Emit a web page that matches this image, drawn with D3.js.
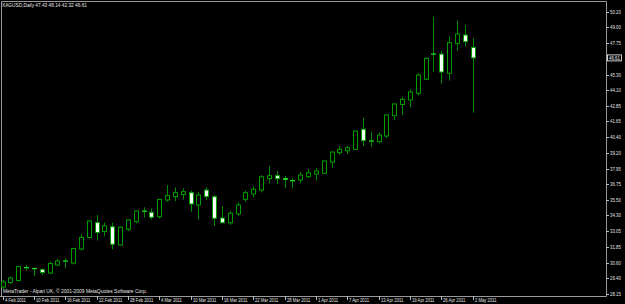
<!DOCTYPE html>
<html><head><meta charset="utf-8">
<script src="https://cdn.jsdelivr.net/npm/d3@7"></script>
<style>html,body{margin:0;padding:0;background:#000;overflow:hidden}</style>
</head><body>
<svg id="c" width="625" height="304"></svg>
<script>
const dates = ["2011-02-04","2011-02-07","2011-02-08","2011-02-09","2011-02-10","2011-02-11","2011-02-14","2011-02-15","2011-02-16","2011-02-17","2011-02-18","2011-02-21","2011-02-22","2011-02-23","2011-02-24","2011-02-25","2011-02-28",
"2011-03-01","2011-03-02","2011-03-03","2011-03-04","2011-03-07","2011-03-08","2011-03-09","2011-03-10","2011-03-11","2011-03-14","2011-03-15","2011-03-16","2011-03-17","2011-03-18","2011-03-21","2011-03-22","2011-03-23","2011-03-24","2011-03-25","2011-03-28","2011-03-29","2011-03-30","2011-03-31",
"2011-04-01","2011-04-04","2011-04-05","2011-04-06","2011-04-07","2011-04-08","2011-04-11","2011-04-12","2011-04-13","2011-04-14","2011-04-15","2011-04-18","2011-04-19","2011-04-20","2011-04-21","2011-04-25","2011-04-26","2011-04-27","2011-04-28","2011-04-29","2011-05-02"];
const open  = [28.70,29.05,29.21,30.20,30.15,30.07,29.79,30.42,30.72,30.57,31.67,32.57,33.74,33.04,33.41,31.98,33.21,33.80,34.61,34.54,34.19,35.50,35.76,35.93,36.07,35.11,36.28,35.76,34.09,33.72,34.41,35.55,35.97,36.28,37.17,37.40,37.17,37.00,37.06,37.32,37.53,37.59,38.47,39.20,39.35,39.46,41.03,40.10,40.06,40.50,42.09,42.97,43.32,43.84,44.94,46.90,46.91,45.41,47.75,48.40,47.43];
const high  = [29.24,29.52,30.34,30.42,30.18,30.14,30.69,30.89,30.93,31.75,32.84,33.94,34.33,33.74,33.72,33.43,34.01,34.68,34.93,34.85,35.58,36.67,36.49,36.41,36.24,36.13,36.49,35.89,35.03,34.64,35.32,36.24,36.56,37.45,38.16,37.77,37.38,37.20,37.69,37.90,37.98,38.59,39.29,39.72,39.72,40.93,41.93,40.84,40.76,42.18,43.04,43.58,44.15,45.41,46.64,49.83,47.17,48.32,49.52,49.18,48.14];
const low   = [28.54,28.93,29.13,29.99,29.56,29.64,29.71,30.34,30.18,30.46,31.55,32.49,32.33,32.65,31.65,31.94,33.08,33.68,34.13,33.98,34.07,35.38,35.40,35.55,34.59,33.99,35.50,33.47,33.70,33.55,34.27,35.34,35.70,36.09,36.81,36.75,36.41,36.41,36.85,37.24,37.01,37.53,38.03,39.02,39.10,39.41,39.72,39.67,39.93,40.32,41.75,42.15,42.75,43.65,44.88,45.53,44.62,44.83,47.17,47.49,42.32];
const close = [29.09,29.40,30.30,30.22,30.13,29.83,30.53,30.73,30.74,31.71,32.57,33.86,32.96,33.47,32.04,33.37,33.94,34.64,34.63,34.15,35.55,35.84,36.07,36.15,35.19,35.89,35.76,34.07,33.72,34.46,35.11,36.07,36.34,37.32,37.40,37.17,37.12,37.02,37.45,37.63,37.77,38.55,39.25,39.46,39.59,40.89,40.14,40.12,40.58,42.15,43.01,43.37,43.94,45.27,46.58,46.92,45.51,47.80,48.48,47.88,46.61];
const priceTicks = [50.20,49.00,47.75,45.30,44.10,42.85,41.65,40.40,39.20,37.95,36.75,35.50,34.30,33.05,31.85,30.60,29.40,28.15];
const dateTickLabels = ["4 Feb 2011","10 Feb 2011","16 Feb 2011","22 Feb 2011","28 Feb 2011","4 Mar 2011","10 Mar 2011","16 Mar 2011","22 Mar 2011","28 Mar 2011","1 Apr 2011","7 Apr 2011","13 Apr 2011","19 Apr 2011","26 Apr 2011","2 May 2011"];
const headerText = "XAGUSD,Daily  47.43 48.14 42.32 46.61";
const footerText = "MetaTrader - Alpari UK, \u00a9 2001-2009 MetaQuotes Software Corp.";
const lastPrice = 46.61;

const svg = d3.select("#c");
svg.append("rect").attr("width",625).attr("height",304).attr("fill","#000");

const parse = d3.timeParse("%Y-%m-%d");
const fmt = d3.timeFormat("%-d %b %Y");
const x = d3.scalePoint().domain(dates).range([2.5, 472.5]);
const y = d3.scaleLinear().domain([28.15, 50.20]).range([294, 12]);

const bars = dates.map((d,i)=>({d, o:open[i], h:high[i], l:low[i], c:close[i]}));
const font = "'Liberation Sans', Arial, sans-serif";
const FS = 5.4;
function squeeze(sel, k){ sel.each(function(){ const w=this.getComputedTextLength(); d3.select(this).attr("textLength",w*k).attr("lengthAdjust","spacingAndGlyphs"); }); }

// frame
svg.append("path").attr("d",`M1.5,296V1.5H606.5V296.5H0`).attr("fill","none").attr("stroke","#9a9a9a").attr("stroke-width",1);

const g = svg.append("g");
// wicks
g.selectAll("line.w").data(bars).join("line")
  .attr("x1",b=>Math.round(x(b.d))+0.5).attr("x2",b=>Math.round(x(b.d))+0.5)
  .attr("y1",b=>y(b.h)).attr("y2",b=>y(b.l))
  .attr("stroke","#008c00").attr("stroke-width",1);
// bodies
g.selectAll("rect.b").data(bars).join("rect")
  .attr("x",b=>Math.round(x(b.d))-2)
  .attr("y",b=>y(Math.max(b.o,b.c)))
  .attr("width",4)
  .attr("height",b=>Math.max(0.01,Math.abs(y(b.o)-y(b.c))))
  .attr("fill",b=>b.c<b.o?"#f4fff4":"#000")
  .attr("stroke",b=>Math.abs(y(b.o)-y(b.c))<1.2?"#1ee01e":"#009c00")
  .attr("stroke-width",1)
  .attr("transform","translate(0.5,0)");

// right axis
const ra = svg.append("g").attr("font-family",font).attr("font-size",FS).attr("fill","#e6e6e6");
priceTicks.forEach(v=>{
  ra.append("line").attr("x1",606).attr("x2",609).attr("y1",Math.round(y(v))+0.5).attr("y2",Math.round(y(v))+0.5).attr("stroke","#bbb");
  ra.append("text").attr("class","pl").attr("x",610).attr("y",y(v)).attr("dy","0.35em").text(v.toFixed(2));
});
// last price box
const ly = y(lastPrice);
ra.append("rect").attr("x",607.5).attr("y",ly-3).attr("width",14).attr("height",6).attr("fill","#000").attr("stroke","#fff").attr("stroke-width",0.8);
ra.append("text").attr("class","pl").attr("x",609).attr("y",ly).attr("dy","0.35em").attr("fill","#fff").text(lastPrice.toFixed(2));
squeeze(ra.selectAll("text.pl"), 0.8);

// bottom axis
const ba = svg.append("g").attr("font-family",font).attr("font-size",FS).attr("fill","#e6e6e6");
dates.forEach(d=>{
  const lab = fmt(parse(d));
  if (dateTickLabels.includes(lab)) {
    const xp = Math.round(x(d))+0.5;
    ba.append("line").attr("x1",xp).attr("x2",xp).attr("y1",296).attr("y2",300).attr("stroke","#bbb");
    ba.append("text").attr("x",xp+1.5).attr("y",302).text(lab);
  }
});
squeeze(ba.selectAll("text"), 0.78);

const ht = svg.append("text").attr("x",2).attr("y",7.3).attr("font-family",font).attr("font-size",FS).attr("fill","#e6e6e6").text(headerText);
ht.attr("textLength",85).attr("lengthAdjust","spacingAndGlyphs");
const ft = svg.append("text").attr("x",3).attr("y",293).attr("font-family",font).attr("font-size",FS).attr("fill","#e6e6e6").text(footerText);
ft.attr("textLength",144).attr("lengthAdjust","spacingAndGlyphs");
</script>
</body></html>
